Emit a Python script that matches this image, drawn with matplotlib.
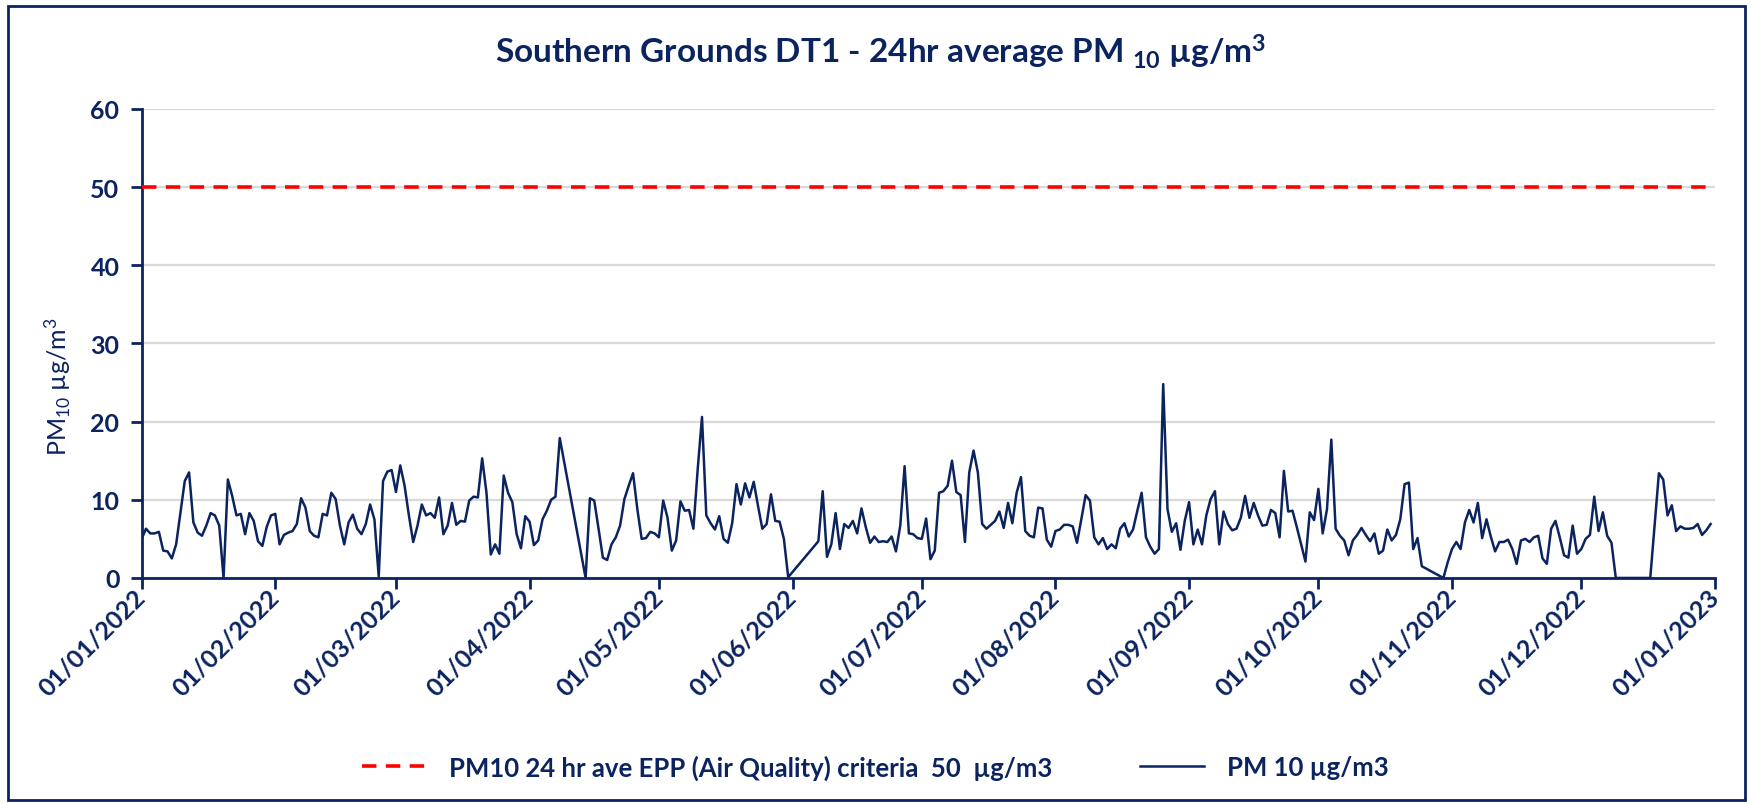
import numpy as np
import pandas as pd
import matplotlib
matplotlib.use("Agg")
import matplotlib.pyplot as plt
import matplotlib.dates as mdates
from matplotlib.patches import Rectangle

plt.rcParams['font.family'] = ['Lato', 'DejaVu Sans']
plt.rcParams['mathtext.default'] = 'regular'

NAVY = '#0B2460'

# daily 24hr average PM10 (ug/m3), one list per month, None = no data
jan = [5.0, 6.3, 5.7, 5.7, 5.9, 3.5, 3.4, 2.5, 4.3, 8.4, 12.4, 13.5, 7.1, 5.8, 5.4, 6.7,
       8.3, 8.0, 6.7, 0.0, 12.6, 10.5, 8.0, 8.2, 5.6, 8.3, 7.3, 4.7, 4.1, 6.5, 8.0]
feb = [8.2, 4.3, 5.5, 5.8, 6.0, 6.9, 10.2, 9.0, 6.0, 5.4, 5.2, 8.2, 8.0, 10.9, 10.1, 6.7,
       4.3, 7.1, 8.1, 6.3, 5.6, 6.9, 9.4, 7.5, 0.2, 12.4, 13.6, 13.8]
mar = [11.0, 14.4, 11.8, 8.0, 4.6, 6.7, 9.4, 8.0, 8.3, 7.7, 10.3, 5.6, 6.7, 9.6, 6.8, 7.3,
       7.2, 9.9, 10.4, 10.3, 15.3, 10.9, 3.0, 4.3, 3.1, 13.1, 10.9, 9.7, 5.6, 3.8, 7.9]
apr = [7.2, 4.2, 4.8, 7.5, 8.6, 10.0, 10.4, 17.9, None, None, None, None, None, 0.0, 10.2,
       9.9, 6.3, 2.6, 2.3, 4.3, 5.2, 6.7, 10.1, 11.8, 13.4, 8.8, 5.0, 5.1, 5.9, 5.7]
may = [5.2, 9.9, 7.7, 3.5, 4.8, 9.8, 8.6, 8.7, 6.3, 13.9, 20.6, 8.0, 7.0, 6.2, 7.9, 5.0,
       4.5, 7.0, 12.0, 9.4, 12.1, 10.3, 12.3, 9.2, 6.3, 6.9, 10.7, 7.3, 7.2, 5.0, 0.1]
jun = [None, None, None, None, None, None, 4.7, 11.1, 2.7, 4.3, 8.3, 3.7, 6.9, 6.4, 7.3,
       5.7, 8.9, 6.5, 4.5, 5.3, 4.6, 4.7, 4.6, 5.3, 3.4, 6.7, 14.3, 5.7, 5.6, 5.1]
jul = [5.0, 7.6, 2.4, 3.5, 10.9, 11.1, 11.8, 15.0, 11.0, 10.6, 4.6, 13.5, 16.3, 13.5, 6.9,
       6.3, 6.8, 7.3, 8.5, 6.4, 9.6, 7.0, 10.9, 12.9, 6.0, 5.4, 5.2, 9.0, 8.9, 4.9, 4.0]
aug = [6.0, 6.2, 6.8, 6.8, 6.6, 4.5, 7.5, 10.6, 9.9, 5.2, 4.3, 5.1, 3.7, 4.3, 3.8, 6.3,
       7.0, 5.3, 6.2, 8.6, 10.9, 5.2, 4.0, 3.1, 3.7, 24.8, 8.8, 5.9, 7.0, 3.6, 7.3]
sep = [9.7, 4.3, 6.2, 4.3, 8.0, 10.1, 11.1, 4.3, 8.5, 6.9, 6.1, 6.3, 7.7, 10.5, 7.7, 9.6,
       8.0, 6.7, 6.8, 8.7, 8.3, 5.2, 13.7, 8.5, 8.6, 6.5, 4.3, 2.1, 8.4, 7.4]
oct_ = [11.4, 5.7, 8.8, 17.7, 6.3, 5.4, 4.8, 2.9, 4.8, 5.5, 6.4, 5.5, 4.7, 5.7, 3.1, 3.5,
        6.2, 4.8, 5.5, 7.5, 12.0, 12.2, 3.7, 5.1, 1.5, None, None, None, None, 0.0, 2.0]
nov = [3.7, 4.6, 3.7, 7.1, 8.7, 7.1, 9.6, 5.1, 7.5, 5.3, 3.4, 4.6, 4.6, 4.9, 3.7, 1.8,
       4.8, 5.0, 4.6, 5.2, 5.4, 2.5, 1.8, 6.3, 7.3, 5.2, 2.9, 2.6, 6.7, 3.1]
dec = [3.7, 5.0, 5.5, 10.4, 6.0, 8.4, 5.4, 4.5, 0.0, None, None, None, None, None, None,
       None, 0.0, None, 13.4, 12.6, 8.0, 9.3, 6.0, 6.6, 6.3, 6.3, 6.4, 6.9, 5.5, 6.1, 6.9]

criteria = 50
title_txt = 'Southern Grounds DT1 - 24hr average PM $_{10}$ µg/m$^{3}$'
ylabel_txt = 'PM$_{10}$ µg/m$^{3}$'
legend_crit = 'PM10 24 hr ave EPP (Air Quality) criteria  50  µg/m3'
legend_pm = 'PM 10 µg/m3'

vals = jan + feb + mar + apr + may + jun + jul + aug + sep + oct_ + nov + dec
dates = pd.date_range('2022-01-01', periods=len(vals), freq='D')
pm10 = pd.Series(vals, index=dates, dtype=float).dropna()

fig = plt.figure(figsize=(17.51, 8.04), dpi=100)
ax = fig.add_axes([0.0809, 0.2799, 0.8985, 0.5833])

start = pd.Timestamp('2022-01-01')
end = pd.Timestamp('2023-01-01')
l1, = ax.plot([start, end], [criteria, criteria], color='#FF0000', lw=2.6,
              linestyle=(0, (4, 2.6)), label=legend_crit, zorder=3)
l2, = ax.plot(pm10.index, pm10.values, color=NAVY, lw=1.8, label=legend_pm, zorder=4)

ax.set_xlim(start, end)
ax.set_ylim(0, 60)
ax.set_yticks(range(0, 61, 10))
ax.grid(axis='y', color='#D9D9D9', lw=1.6)
ax.set_axisbelow(True)

ax.xaxis.set_major_locator(mdates.MonthLocator())
ax.xaxis.set_major_formatter(mdates.DateFormatter('%d/%m/%Y'))

for s in ['top', 'right']:
    ax.spines[s].set_visible(False)
for s in ['left', 'bottom']:
    ax.spines[s].set_color(NAVY)
    ax.spines[s].set_linewidth(2)

ax.tick_params(axis='both', colors=NAVY, width=2, length=8, labelsize=18)
ax.tick_params(axis='y', pad=8)
ax.tick_params(axis='x', pad=3)
for lab in ax.get_yticklabels():
    lab.set_fontweight('bold')
for lab in ax.get_xticklabels():
    lab.set_fontweight('bold')
    lab.set_rotation(45)
    lab.set_ha('right')
    lab.set_va('center')
    lab.set_rotation_mode('anchor')

fig.text(0.503, 0.935, title_txt, ha='center', va='center', fontsize=24,
         fontweight='bold', color=NAVY)
fig.text(0.033, 1 - 387 / 804, ylabel_txt, ha='center', va='center', rotation=90,
         fontsize=18, color=NAVY)

leg = fig.legend(handles=[l1, l2], loc='center', bbox_to_anchor=(0.5, 1 - 768 / 804),
                 ncol=2, frameon=False, handlelength=2.5, handletextpad=0.9,
                 columnspacing=3.4, prop={'size': 18.5, 'weight': 'bold'})
for t in leg.get_texts():
    t.set_color(NAVY)

# outer chart border
fig.patches.append(Rectangle((8 / 1751, 3 / 804), 1737 / 1751, 794 / 804,
                             transform=fig.transFigure, fill=False,
                             edgecolor=NAVY, lw=2))

fig.savefig('out.png', dpi=100)
